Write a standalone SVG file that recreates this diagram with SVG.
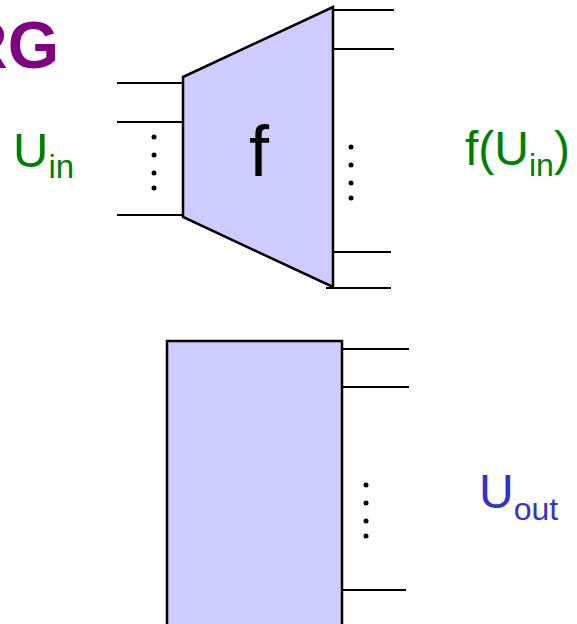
<svg xmlns="http://www.w3.org/2000/svg" width="577" height="624" viewBox="0 0 577 624">
<style>
.shape{fill:#ccccff;stroke:#000;stroke-width:2.5}
.wire{stroke:#000;stroke-width:2;fill:none}
.dot{fill:#000}
text{font-family:"Liberation Sans",Arial,sans-serif}
.green{fill:#008000}
.blue{fill:#3333cc}
</style>
<rect width="577" height="624" fill="#fff"/>
<text x="59" y="68" font-size="66" font-weight="bold" fill="#800080" text-anchor="end">RG</text>
<g id="connectors">
<line class="wire" x1="117" y1="83" x2="183" y2="83"/>
<line class="wire" x1="117" y1="122" x2="183" y2="122"/>
<line class="wire" x1="117" y1="215" x2="183" y2="215"/>
<line class="wire" x1="329" y1="10" x2="394" y2="10"/>
<line class="wire" x1="329" y1="49" x2="394" y2="49"/>
<line class="wire" x1="326" y1="252" x2="391" y2="252"/>
<line class="wire" x1="326" y1="288" x2="391" y2="288"/>
<line class="wire" x1="343" y1="349" x2="409" y2="349"/>
<line class="wire" x1="343" y1="387" x2="409" y2="387"/>
<line class="wire" x1="341" y1="590" x2="406" y2="590"/>
</g>
<g id="node-f">
<polygon class="shape" points="183,77 333,7 333,287 183,217"/>
<text x="259" y="176" font-size="72" text-anchor="middle">f</text>
</g>
<g id="node-out">
<rect class="shape" x="167" y="341" width="175" height="300"/>
</g>
<g id="dots-in">
<circle class="dot" cx="154" cy="137" r="2.5"/>
<circle class="dot" cx="154" cy="155" r="2.5"/>
<circle class="dot" cx="154" cy="173" r="2.5"/>
<circle class="dot" cx="154" cy="188" r="2.5"/>
</g>
<g id="dots-f">
<circle class="dot" cx="351" cy="147" r="2.5"/>
<circle class="dot" cx="351" cy="165" r="2.5"/>
<circle class="dot" cx="351" cy="183" r="2.5"/>
<circle class="dot" cx="351" cy="198" r="2.5"/>
</g>
<g id="dots-out">
<circle class="dot" cx="366" cy="485" r="2.5"/>
<circle class="dot" cx="366" cy="503" r="2.5"/>
<circle class="dot" cx="366" cy="521" r="2.5"/>
<circle class="dot" cx="366" cy="536" r="2.5"/>
</g>
<g id="label-uin">
<text x="13" y="167" font-size="49" class="green">U<tspan font-size="33" dy="11">in</tspan></text>
</g>
<g id="label-fuin">
<text x="465" y="165" font-size="48" class="green">f(U<tspan font-size="32" dy="11">in</tspan><tspan dy="-11">)</tspan></text>
</g>
<g id="label-uout">
<text x="479" y="508" font-size="48" class="blue">U<tspan font-size="32" dy="12">out</tspan></text>
</g>
</svg>
